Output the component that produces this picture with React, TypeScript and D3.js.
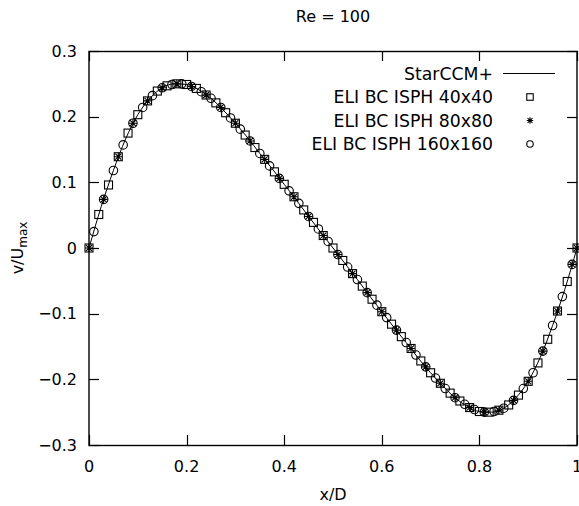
import React, { useEffect, useRef } from 'react'
import * as d3 from 'd3'

// StarCCM+ reference profile
const refX = [0, 0.025, 0.05, 0.075, 0.1, 0.125, 0.15, 0.175, 0.2, 0.225, 0.25, 0.275, 0.3, 0.325, 0.35, 0.375, 0.4, 0.425, 0.45, 0.475, 0.5,
  0.525, 0.55, 0.575, 0.6, 0.625, 0.65, 0.675, 0.7, 0.725, 0.75, 0.775, 0.8, 0.825, 0.85, 0.875, 0.9, 0.925, 0.95, 0.975, 1]
const refV = [0, 0.063, 0.118, 0.166, 0.203, 0.228, 0.244, 0.25, 0.249, 0.241, 0.228, 0.21, 0.19, 0.168, 0.144, 0.121, 0.097, 0.073, 0.048, 0.024, 0,
  -0.024, -0.048, -0.073, -0.097, -0.121, -0.144, -0.168, -0.19, -0.21, -0.228, -0.241, -0.249, -0.25, -0.244, -0.228, -0.203, -0.166, -0.118, -0.063, 0]

// ELI BC ISPH 40x40
const sq40X = [0, 0.02, 0.04, 0.06, 0.08, 0.1, 0.12, 0.14, 0.16, 0.18, 0.2, 0.22, 0.24, 0.26, 0.28, 0.3, 0.32, 0.34, 0.36, 0.38, 0.4, 0.42, 0.44, 0.46, 0.48, 0.5,
  0.52, 0.54, 0.56, 0.58, 0.6, 0.62, 0.64, 0.66, 0.68, 0.7, 0.72, 0.74, 0.76, 0.78, 0.8, 0.82, 0.84, 0.86, 0.88, 0.9, 0.92, 0.94, 0.96, 0.98, 1]
const sq40V = [0, 0.051, 0.096, 0.139, 0.175, 0.203, 0.224, 0.239, 0.247, 0.25, 0.249, 0.243, 0.233, 0.221, 0.206, 0.19, 0.172, 0.153, 0.135, 0.116, 0.097, 0.078, 0.058, 0.039, 0.019, 0,
  -0.019, -0.039, -0.058, -0.078, -0.097, -0.116, -0.135, -0.153, -0.172, -0.19, -0.206, -0.221, -0.233, -0.243, -0.249, -0.25, -0.247, -0.239, -0.224, -0.203, -0.175, -0.139, -0.096, -0.051, 0]

// ELI BC ISPH 80x80
const st80X = [0, 0.03, 0.06, 0.09, 0.12, 0.15, 0.18, 0.21, 0.24, 0.27, 0.3, 0.33, 0.36, 0.39, 0.42, 0.45, 0.48,
  0.51, 0.54, 0.57, 0.6, 0.63, 0.66, 0.69, 0.72, 0.75, 0.78, 0.81, 0.84, 0.87, 0.9, 0.93, 0.96, 0.99, 1]
const st80V = [0, 0.074, 0.139, 0.19, 0.224, 0.244, 0.25, 0.246, 0.233, 0.214, 0.19, 0.163, 0.135, 0.106, 0.078, 0.048, 0.019,
  -0.01, -0.039, -0.068, -0.097, -0.125, -0.153, -0.181, -0.206, -0.228, -0.243, -0.25, -0.247, -0.232, -0.203, -0.157, -0.096, -0.025, 0]

// ELI BC ISPH 160x160
const ci160X = [0.01, 0.03, 0.05, 0.07, 0.09, 0.11, 0.13, 0.15, 0.17, 0.19, 0.21, 0.23, 0.25, 0.27, 0.29, 0.31, 0.33, 0.35, 0.37, 0.39, 0.41, 0.43, 0.45, 0.47, 0.49,
  0.51, 0.53, 0.55, 0.57, 0.59, 0.61, 0.63, 0.65, 0.67, 0.69, 0.71, 0.73, 0.75, 0.77, 0.79, 0.81, 0.83, 0.85, 0.87, 0.89, 0.91, 0.93, 0.95, 0.97, 0.99]
const ci160V = [0.025, 0.074, 0.118, 0.157, 0.19, 0.214, 0.232, 0.244, 0.249, 0.25, 0.246, 0.238, 0.228, 0.214, 0.198, 0.181, 0.163, 0.144, 0.125, 0.106, 0.087, 0.068, 0.048, 0.029, 0.01,
  -0.01, -0.029, -0.048, -0.068, -0.087, -0.106, -0.125, -0.144, -0.163, -0.181, -0.198, -0.214, -0.228, -0.238, -0.246, -0.25, -0.249, -0.244, -0.232, -0.214, -0.19, -0.157, -0.118, -0.074, -0.025]

const xTicks = [0, 0.2, 0.4, 0.6, 0.8, 1]
const yTicks = [-0.3, -0.2, -0.1, 0, 0.1, 0.2, 0.3]
const legendLabels = ['StarCCM+', 'ELI BC ISPH 40x40', 'ELI BC ISPH 80x80', 'ELI BC ISPH 160x160']

const W = 579
const H = 506
const FONT = 'DejaVu Sans, Verdana, sans-serif'

function drawMarker(g: any, kind: string, px: number, py: number, s: number) {
  const h = s / 2
  if (kind === 'square') {
    g.append('rect').attr('x', px - h).attr('y', py - h).attr('width', s).attr('height', s)
      .attr('fill', 'none').attr('stroke', '#000').attr('stroke-width', 1.1)
  } else if (kind === 'star') {
    const d = h * 0.75
    g.append('path').attr('d', `M${-h},0H${h}M0,${-h}V${h}M${-d},${-d}L${d},${d}M${-d},${d}L${d},${-d}`)
      .attr('transform', `translate(${px},${py})`)
      .attr('fill', 'none').attr('stroke', '#000').attr('stroke-width', 1.1)
  } else {
    g.append('circle').attr('cx', px).attr('cy', py).attr('r', h)
      .attr('fill', 'none').attr('stroke', '#000').attr('stroke-width', 1.1)
  }
}

export default function App() {
  const ref = useRef<SVGSVGElement>(null)

  useEffect(() => {
    const svg = d3.select(ref.current)
    svg.selectAll('*').remove()

    const left = 89, right = 577, top = 51, bottom = 445
    const x = d3.scaleLinear().domain([0, 1]).range([left, right])
    const y = d3.scaleLinear().domain([-0.3, 0.3]).range([bottom, top])

    // ticks, mirrored on all sides, pointing inward
    const tk = svg.append('g').attr('stroke', '#000').attr('stroke-width', 1.2)
    xTicks.forEach((t) => {
      const px = Math.round(x(t)) + 0.5
      tk.append('line').attr('x1', px).attr('x2', px).attr('y1', bottom).attr('y2', bottom - 10)
      tk.append('line').attr('x1', px).attr('x2', px).attr('y1', top).attr('y2', top + 10)
    })
    yTicks.forEach((t) => {
      const py = Math.round(y(t)) + 0.5
      tk.append('line').attr('x1', left).attr('x2', left + 10).attr('y1', py).attr('y2', py)
      tk.append('line').attr('x1', right).attr('x2', right - 10).attr('y1', py).attr('y2', py)
    })

    // tick labels
    const lab = svg.append('g').attr('font-family', FONT).attr('font-size', 16).attr('fill', '#000')
    xTicks.forEach((t) => {
      lab.append('text').attr('x', x(t)).attr('y', 472).attr('text-anchor', 'middle').text(d3.format('~g')(t))
    })
    yTicks.forEach((t) => {
      lab.append('text').attr('x', 77).attr('y', y(t)).attr('dy', '0.36em').attr('text-anchor', 'end')
        .text(t === 0 ? '0' : d3.format('.1f')(t))
    })

    // reference line
    const line = d3.line<number>().x((d, i) => x(refX[i])).y((d) => y(d)).curve(d3.curveMonotoneX)
    svg.append('path').datum(refV).attr('d', line).attr('fill', 'none').attr('stroke', '#000').attr('stroke-width', 1)

    // markers
    const mk = svg.append('g')
    sq40V.forEach((v, i) => drawMarker(mk, 'square', x(sq40X[i]), y(v), 8))
    st80V.forEach((v, i) => drawMarker(mk, 'star', x(st80X[i]), y(v), 8))
    ci160V.forEach((v, i) => drawMarker(mk, 'circle', x(ci160X[i]), y(v), 8.5))

    // frame
    svg.append('rect').attr('x', left).attr('y', top + 0.5).attr('width', right - left).attr('height', bottom - top)
      .attr('fill', 'none').attr('stroke', '#000').attr('stroke-width', 1.4)

    // legend
    const lg = svg.append('g').attr('font-family', FONT).attr('font-size', 17.3)
    const kinds = ['line', 'square', 'star', 'circle']
    legendLabels.forEach((l, i) => {
      const cy = 73.5 + i * 23.5
      lg.append('text').attr('x', 493).attr('y', cy).attr('dy', '0.36em').attr('text-anchor', 'end').text(l)
      if (kinds[i] === 'line') {
        lg.append('line').attr('x1', 503).attr('x2', 555).attr('y1', cy).attr('y2', cy).attr('stroke', '#000')
      } else {
        drawMarker(lg, kinds[i], 530, cy, 6.5)
      }
    })

    // titles
    const tt = svg.append('g').attr('font-family', FONT).attr('font-size', 16).attr('fill', '#000')
    tt.append('text').attr('x', 333).attr('y', 22).attr('text-anchor', 'middle').text('Re = 100')
    tt.append('text').attr('x', 333).attr('y', 500).attr('text-anchor', 'middle').text('x/D')
    const yl = tt.append('text').attr('transform', 'translate(23,248) rotate(-90)').attr('text-anchor', 'middle')
    yl.append('tspan').text('v/U')
    yl.append('tspan').attr('font-size', 12).attr('dy', 4).text('max')
  }, [])

  return (
    <div style={{ position: 'fixed', left: 0, top: 0 }}>
      <svg ref={ref} width={W} height={H} style={{ display: 'block', background: '#fff' }} />
    </div>
  )
}
